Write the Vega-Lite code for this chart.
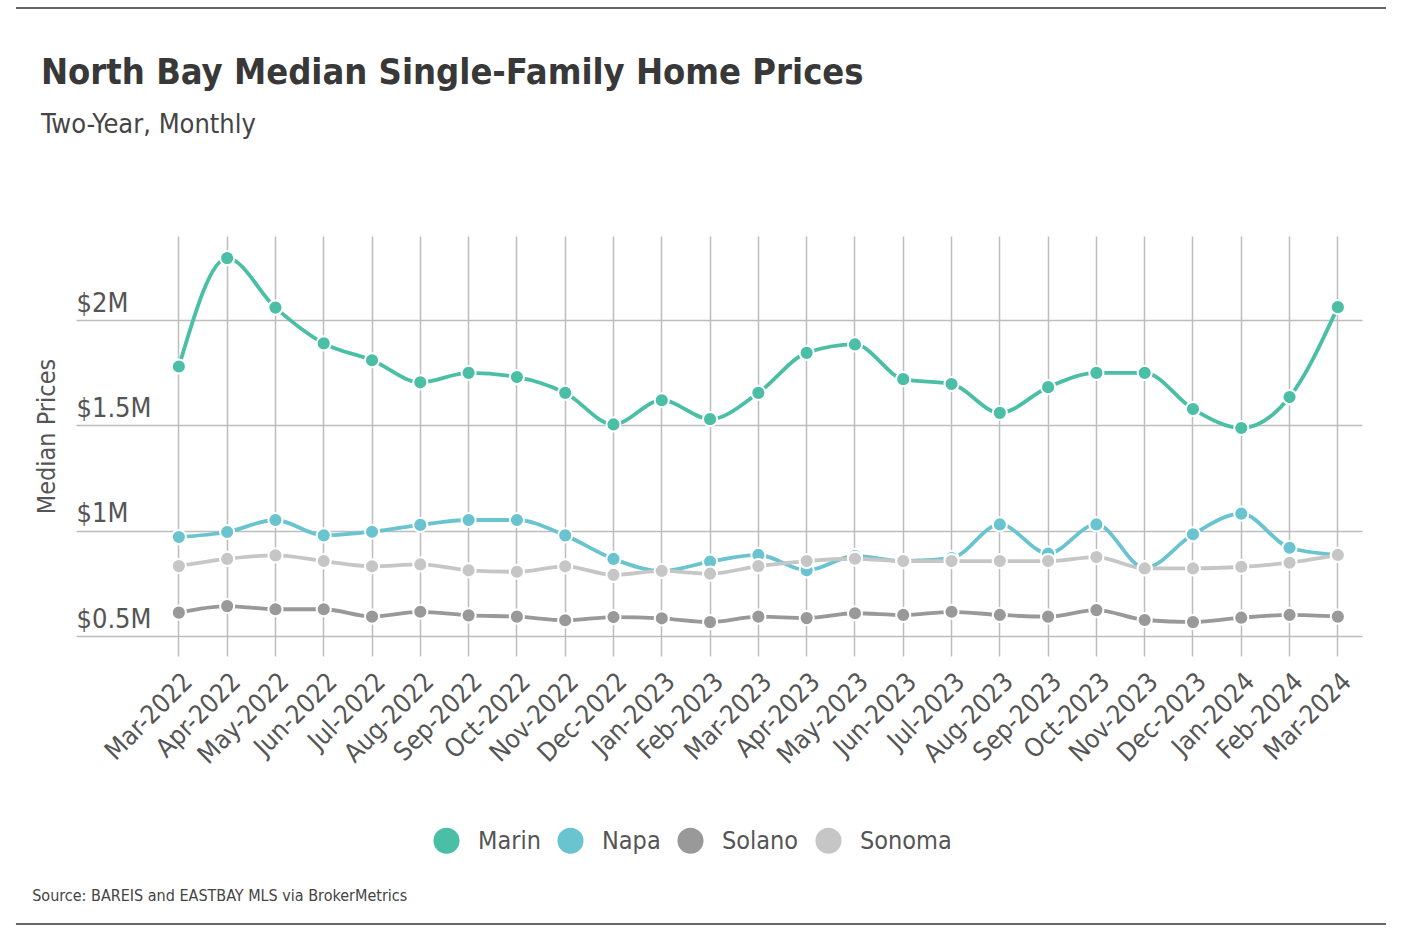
{
  "$schema": "https://vega.github.io/schema/vega-lite/v6.json",
  "background": "white",
  "padding": {"left": 15, "top": 7, "right": 10, "bottom": 5},
  "spacing": 29,
  "vconcat": [
    {
      "width": 1286,
      "height": 18,
      "data": {"values": [{"edge": "top"}]},
      "mark": {"type": "rule", "color": "#333333", "strokeWidth": 1.5},
      "encoding": {
        "x": {"datum": -0.0467, "type": "quantitative", "scale": {"domain": [0, 1], "nice": false, "zero": false}, "axis": null},
        "x2": {"datum": 1.0187},
        "y": {"datum": 1, "type": "quantitative", "scale": {"domain": [0, 1]}, "axis": null}
      }
    },
    {
      "width": 1286,
      "height": 400,
      "title": {
        "text": "North Bay Median Single-Family Home Prices",
        "subtitle": "Two-Year, Monthly",
        "anchor": "start",
        "frame": "bounds",
        "font": "DejaVu Sans Condensed",
        "fontSize": 36,
        "fontWeight": "bold",
        "color": "#383838",
        "subtitleFont": "DejaVu Sans Condensed",
        "subtitleFontSize": 27,
        "subtitleColor": "#454545",
        "subtitlePadding": 20,
        "offset": 97,
        "dx": 7
      },
      "data": {
        "values": [
          {"month": "Mar-2022", "county": "Marin", "price": 1780000},
          {"month": "Apr-2022", "county": "Marin", "price": 2295000},
          {"month": "May-2022", "county": "Marin", "price": 2060000},
          {"month": "Jun-2022", "county": "Marin", "price": 1890000},
          {"month": "Jul-2022", "county": "Marin", "price": 1810000},
          {"month": "Aug-2022", "county": "Marin", "price": 1705000},
          {"month": "Sep-2022", "county": "Marin", "price": 1750000},
          {"month": "Oct-2022", "county": "Marin", "price": 1730000},
          {"month": "Nov-2022", "county": "Marin", "price": 1655000},
          {"month": "Dec-2022", "county": "Marin", "price": 1505000},
          {"month": "Jan-2023", "county": "Marin", "price": 1620000},
          {"month": "Feb-2023", "county": "Marin", "price": 1530000},
          {"month": "Mar-2023", "county": "Marin", "price": 1655000},
          {"month": "Apr-2023", "county": "Marin", "price": 1845000},
          {"month": "May-2023", "county": "Marin", "price": 1885000},
          {"month": "Jun-2023", "county": "Marin", "price": 1720000},
          {"month": "Jul-2023", "county": "Marin", "price": 1697000},
          {"month": "Aug-2023", "county": "Marin", "price": 1560000},
          {"month": "Sep-2023", "county": "Marin", "price": 1682000},
          {"month": "Oct-2023", "county": "Marin", "price": 1750000},
          {"month": "Nov-2023", "county": "Marin", "price": 1750000},
          {"month": "Dec-2023", "county": "Marin", "price": 1578000},
          {"month": "Jan-2024", "county": "Marin", "price": 1488000},
          {"month": "Feb-2024", "county": "Marin", "price": 1635000},
          {"month": "Mar-2024", "county": "Marin", "price": 2062000},
          {"month": "Mar-2022", "county": "Napa", "price": 970000},
          {"month": "Apr-2022", "county": "Napa", "price": 994000},
          {"month": "May-2022", "county": "Napa", "price": 1051000},
          {"month": "Jun-2022", "county": "Napa", "price": 978000},
          {"month": "Jul-2022", "county": "Napa", "price": 995000},
          {"month": "Aug-2022", "county": "Napa", "price": 1028000},
          {"month": "Sep-2022", "county": "Napa", "price": 1051000},
          {"month": "Oct-2022", "county": "Napa", "price": 1051000},
          {"month": "Nov-2022", "county": "Napa", "price": 978000},
          {"month": "Dec-2022", "county": "Napa", "price": 866000},
          {"month": "Jan-2023", "county": "Napa", "price": 809000},
          {"month": "Feb-2023", "county": "Napa", "price": 853000},
          {"month": "Mar-2023", "county": "Napa", "price": 885000},
          {"month": "Apr-2023", "county": "Napa", "price": 812000},
          {"month": "May-2023", "county": "Napa", "price": 880000},
          {"month": "Jun-2023", "county": "Napa", "price": 856000},
          {"month": "Jul-2023", "county": "Napa", "price": 870000},
          {"month": "Aug-2023", "county": "Napa", "price": 1030000},
          {"month": "Sep-2023", "county": "Napa", "price": 892000},
          {"month": "Oct-2023", "county": "Napa", "price": 1030000},
          {"month": "Nov-2023", "county": "Napa", "price": 823000},
          {"month": "Dec-2023", "county": "Napa", "price": 983000},
          {"month": "Jan-2024", "county": "Napa", "price": 1081000},
          {"month": "Feb-2024", "county": "Napa", "price": 919000},
          {"month": "Mar-2024", "county": "Napa", "price": 885000},
          {"month": "Mar-2022", "county": "Solano", "price": 611000},
          {"month": "Apr-2022", "county": "Solano", "price": 642000},
          {"month": "May-2022", "county": "Solano", "price": 627000},
          {"month": "Jun-2022", "county": "Solano", "price": 627000},
          {"month": "Jul-2022", "county": "Solano", "price": 592000},
          {"month": "Aug-2022", "county": "Solano", "price": 615000},
          {"month": "Sep-2022", "county": "Solano", "price": 598000},
          {"month": "Oct-2022", "county": "Solano", "price": 592000},
          {"month": "Nov-2022", "county": "Solano", "price": 575000},
          {"month": "Dec-2022", "county": "Solano", "price": 590000},
          {"month": "Jan-2023", "county": "Solano", "price": 584000},
          {"month": "Feb-2023", "county": "Solano", "price": 566000},
          {"month": "Mar-2023", "county": "Solano", "price": 592000},
          {"month": "Apr-2023", "county": "Solano", "price": 585000},
          {"month": "May-2023", "county": "Solano", "price": 608000},
          {"month": "Jun-2023", "county": "Solano", "price": 600000},
          {"month": "Jul-2023", "county": "Solano", "price": 615000},
          {"month": "Aug-2023", "county": "Solano", "price": 600000},
          {"month": "Sep-2023", "county": "Solano", "price": 592000},
          {"month": "Oct-2023", "county": "Solano", "price": 623000},
          {"month": "Nov-2023", "county": "Solano", "price": 576000},
          {"month": "Dec-2023", "county": "Solano", "price": 566000},
          {"month": "Jan-2024", "county": "Solano", "price": 587000},
          {"month": "Feb-2024", "county": "Solano", "price": 600000},
          {"month": "Mar-2024", "county": "Solano", "price": 592000},
          {"month": "Mar-2022", "county": "Sonoma", "price": 832000},
          {"month": "Apr-2022", "county": "Sonoma", "price": 866000},
          {"month": "May-2022", "county": "Sonoma", "price": 883000},
          {"month": "Jun-2022", "county": "Sonoma", "price": 856000},
          {"month": "Jul-2022", "county": "Sonoma", "price": 831000},
          {"month": "Aug-2022", "county": "Sonoma", "price": 840000},
          {"month": "Sep-2022", "county": "Sonoma", "price": 812000},
          {"month": "Oct-2022", "county": "Sonoma", "price": 805000},
          {"month": "Nov-2022", "county": "Sonoma", "price": 831000},
          {"month": "Dec-2022", "county": "Sonoma", "price": 790000},
          {"month": "Jan-2023", "county": "Sonoma", "price": 809000},
          {"month": "Feb-2023", "county": "Sonoma", "price": 796000},
          {"month": "Mar-2023", "county": "Sonoma", "price": 832000},
          {"month": "Apr-2023", "county": "Sonoma", "price": 856000},
          {"month": "May-2023", "county": "Sonoma", "price": 867000},
          {"month": "Jun-2023", "county": "Sonoma", "price": 856000},
          {"month": "Jul-2023", "county": "Sonoma", "price": 856000},
          {"month": "Aug-2023", "county": "Sonoma", "price": 856000},
          {"month": "Sep-2023", "county": "Sonoma", "price": 856000},
          {"month": "Oct-2023", "county": "Sonoma", "price": 875000},
          {"month": "Nov-2023", "county": "Sonoma", "price": 821000},
          {"month": "Dec-2023", "county": "Sonoma", "price": 821000},
          {"month": "Jan-2024", "county": "Sonoma", "price": 829000},
          {"month": "Feb-2024", "county": "Sonoma", "price": 848000},
          {"month": "Mar-2024", "county": "Sonoma", "price": 885000}
        ]
      },
      "encoding": {
        "x": {
          "field": "month",
          "type": "nominal",
          "sort": null,
          "scale": {"type": "band", "paddingInner": 0, "paddingOuter": 0.815, "align": 1, "round": false},
          "axis": {
            "title": null,
            "bandPosition": 0.5,
            "labelAngle": -45,
            "labelFontSize": 26,
            "labelColor": "#555555",
            "labelPadding": 12,
            "tickSize": 20,
            "tickColor": "#bdbdbd",
            "tickWidth": 1.5,
            "domain": false,
            "grid": true,
            "gridColor": "#bdbdbd",
            "gridWidth": 1.5
          }
        },
        "y": {
          "field": "price",
          "type": "quantitative",
          "scale": {"domain": [500000, 2400000], "nice": false, "zero": false},
          "axis": {
            "title": "Median Prices",
            "values": [500000, 1000000, 1500000, 2000000],
            "labelExpr": "'$' + (datum.value / 1000000) + 'M'",
            "labelAlign": "left",
            "labelBaseline": "alphabetic",
            "labelOffset": -9,
            "labelPadding": 0,
            "labelFlush": false,
            "ticks": false,
            "tickSize": 0,
            "domain": false,
            "grid": true,
            "gridColor": "#bdbdbd",
            "gridWidth": 1.5,
            "labelFontSize": 27,
            "labelColor": "#555555",
            "titleFontSize": 25,
            "titleFontWeight": "normal",
            "titleColor": "#555555",
            "titlePadding": 17
          }
        }
      },
      "layer": [
        {
          "mark": {"type": "line", "interpolate": "monotone", "strokeWidth": 3.8},
          "encoding": {
            "color": {
              "field": "county",
              "type": "nominal",
              "scale": {"domain": ["Marin", "Napa", "Solano", "Sonoma"], "range": ["#4bbfa6", "#6ac4cf", "#999999", "#c6c6c6"]},
              "legend": {
                "title": null,
                "orient": "none",
                "legendX": 357,
                "legendY": 819,
                "padding": 0,
                "direction": "horizontal",
                "symbolType": "circle",
                "symbolSize": 680,
                "labelFontSize": 25,
                "labelColor": "#555555",
                "labelOffset": 18,
                "columnPadding": 16,
                "encode": {
                  "symbols": {
                    "update": {
                      "fill": {"scale": "color", "field": "value"},
                      "stroke": {"value": "transparent"},
                      "strokeWidth": {"value": 0}
                    }
                  }
                }
              }
            }
          }
        },
        {
          "mark": {"type": "point", "filled": true, "size": 200, "stroke": "white", "strokeWidth": 2, "opacity": 1},
          "encoding": {
            "color": {
              "field": "county",
              "type": "nominal",
              "scale": {"domain": ["Marin", "Napa", "Solano", "Sonoma"], "range": ["#4bbfa6", "#6ac4cf", "#999999", "#c6c6c6"]}
            }
          }
        }
      ]
    },
    {
      "width": 1286,
      "height": 126,
      "title": {
        "text": "Source:  BAREIS and EASTBAY MLS via BrokerMetrics",
        "orient": "top",
        "anchor": "start",
        "frame": "bounds",
        "font": "DejaVu Sans Condensed",
        "fontSize": 16,
        "fontWeight": "normal",
        "color": "#444444",
        "offset": -106,
        "dx": 17
      },
      "data": {"values": [{"edge": "bottom"}]},
      "mark": {"type": "rule", "color": "#333333", "strokeWidth": 1.5},
      "encoding": {
        "x": {"datum": -0.0467, "type": "quantitative", "scale": {"domain": [0, 1], "nice": false, "zero": false}, "axis": null},
        "x2": {"datum": 1.0187},
        "y": {"datum": 0, "type": "quantitative", "scale": {"domain": [0, 1]}, "axis": null}
      }
    }
  ],
  "config": {
    "view": {"stroke": null},
    "font": "DejaVu Sans Condensed"
  }
}
